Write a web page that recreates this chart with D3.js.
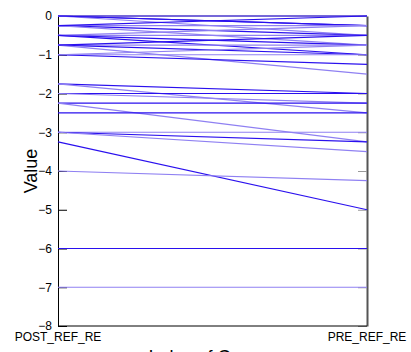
<!DOCTYPE html>
<html>
<head>
<meta charset="utf-8">
<script src="https://cdn.jsdelivr.net/npm/d3@7"></script>
<style>
  body { margin: 0; background: #fff; }
  svg { display: block; font-family: "Liberation Sans", Arial, sans-serif; }
</style>
</head>
<body>
<svg id="chart" width="411" height="352"></svg>
<script>
// two group positions on the x axis
const groups = ["POST_REF_RE", "PRE_REF_RE"];

// one profile line per subject: value at POST_REF_RE -> value at PRE_REF_RE
const postValues = [
  0, 0, 0, 0, 0,
  -0.25, -0.25, -0.25, -0.25,
  -0.5, -0.5, -0.5, -0.5,
  -0.75, -0.75, -0.75, -0.75,
  -1, -1, -1,
  -1.75, -1.75,
  -2, -2,
  -2.25, -2.25,
  -2.5,
  -3, -3, -3,
  -3.25,
  -4,
  -6,
  -7,
];
const preValues = [
  0, 0, -0.25, -0.5, -0.25,
  -0.25, -0.5, -0.75, 0,
  -0.5, -0.75, -0.25, -1,
  -0.75, -1, -1.5, -0.5,
  -1, -1.25, -0.75,
  -2, -2.5,
  -2, -2.25,
  -2.25, -3.25,
  -2.5,
  -3, -3.25, -3.5,
  -5,
  -4.25,
  -6,
  -7,
];

const yTicks = [0, -1, -2, -3, -4, -5, -6, -7, -8];

const margin = { top: 16, right: 44, bottom: 26, left: 58 };
const W = 411, H = 352;
const width = W - margin.left - margin.right;
const height = H - margin.top - margin.bottom;

const svg = d3.select("#chart");
const g = svg.append("g").attr("transform", `translate(${margin.left},${margin.top})`);

const x = d3.scalePoint().domain(groups).range([0, width]);
const y = d3.scaleLinear().domain([-8, 0]).range([height, 0]);

// left axis, ticks pointing inward
const yAxis = g.append("g")
  .call(d3.axisLeft(y).tickValues(yTicks).tickSizeInner(-9).tickSizeOuter(0).tickPadding(6));
yAxis.selectAll("text").attr("font-size", 12).attr("fill", "#000").attr("font-family", "Liberation Sans, Arial, sans-serif");
yAxis.select(".domain").attr("stroke", "#000");

// right axis, no labels
const yAxisR = g.append("g")
  .attr("transform", `translate(${width},0)`)
  .call(d3.axisRight(y).tickValues(yTicks).tickSizeInner(-9).tickSizeOuter(0).tickFormat(""));
yAxisR.selectAll("line").attr("stroke", "#999");
yAxisR.select(".domain").attr("stroke", "#555").attr("stroke-width", 2);

// top and bottom frame
g.append("line").attr("x1", 0).attr("x2", width).attr("y1", y(0)).attr("y2", y(0)).attr("stroke", "#222");
g.append("line").attr("x1", 0).attr("x2", width).attr("y1", y(-8)).attr("y2", y(-8)).attr("stroke", "#000");

// profile lines
const pairs = postValues.map((v, i) => [v, preValues[i]]);
const line = d3.line().x((d, i) => x(groups[i])).y((d) => y(d));

g.append("g")
  .selectAll("path")
  .data(pairs)
  .join("path")
  .attr("d", (d) => line(d))
  .attr("fill", "none")
  .attr("stroke", (d, i) => (i % 2 ? "#8f80f2" : "#2a10ee"))
  .attr("stroke-width", 1.2);

// group labels under the plot
svg.append("g")
  .selectAll("text")
  .data(groups)
  .join("text")
  .attr("x", (d) => margin.left + x(d))
  .attr("y", H - 11)
  .attr("text-anchor", "middle")
  .attr("font-size", 12)
  .text((d) => d);

// axis titles
svg.append("text")
  .attr("transform", `translate(37,${margin.top + y(-4)}) rotate(-90)`)
  .attr("text-anchor", "middle")
  .attr("font-size", 18)
  .text("Value");

svg.append("text")
  .attr("x", margin.left + width / 2)
  .attr("y", H + 11)
  .attr("text-anchor", "middle")
  .attr("font-size", 18)
  .text("Index of Groups");
</script>
</body>
</html>
